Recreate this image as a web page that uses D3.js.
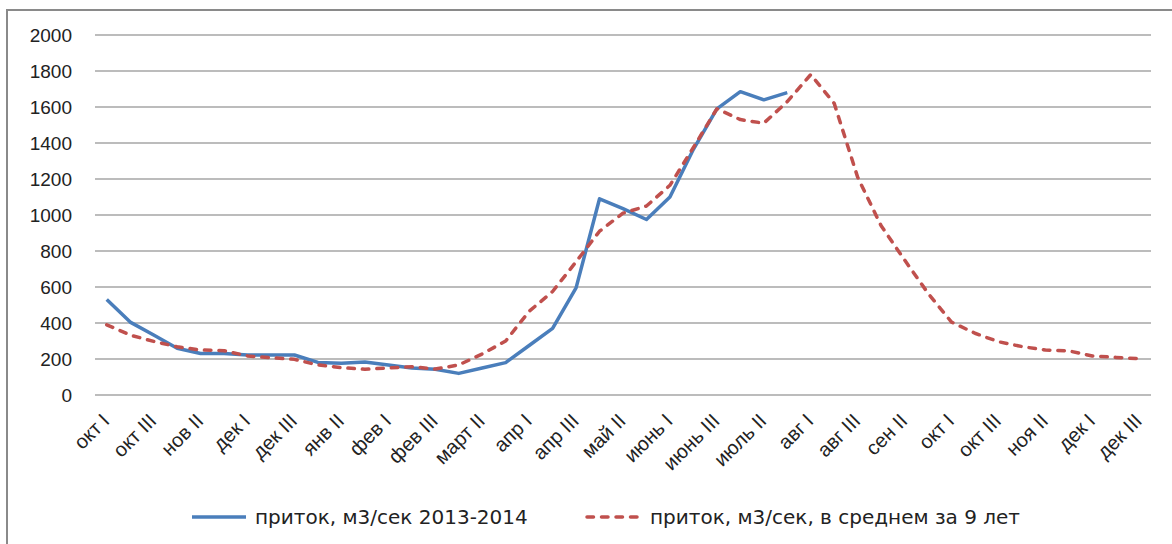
<!DOCTYPE html>
<html>
<head>
<meta charset="utf-8">
<script src="https://cdn.jsdelivr.net/npm/d3@7"></script>
<style>
  body { margin: 0; background: #fff; }
  svg { display: block; font-family: "DejaVu Sans", sans-serif; }
  .grid line { stroke: #a6a6a6; stroke-width: 1.3; }
  .axis text { fill: #222; }
</style>
</head>
<body>
<div class="chart-wrapper"></div>
<script>
// dekad labels: oct 2013 .. dec 2014
const months = ['окт', 'нов', 'дек', 'янв', 'фев', 'март', 'апр', 'май', 'июнь', 'июль', 'авг', 'сен', 'окт', 'ноя', 'дек']
const dekads = ['I', 'II', 'III']

const yTicks = [0, 200, 400, 600, 800, 1000, 1200, 1400, 1600, 1800, 2000]

// приток 2013-2014 (ends in early August)
const inflow2013 = [530, 405, 333, 260, 231, 230, 222, 222, 222, 181, 176, 183, 167, 150, 143,
  120, 150, 180, 275, 370, 595, 1090, 1035, 975, 1100, 1365, 1590, 1685, 1640, 1680]

// приток, средний за 9 лет
const inflowAvg = [390, 333, 298, 268, 250, 246, 217, 207, 198, 167, 152, 143, 150, 157, 144,
  167, 228, 300, 465, 575, 740, 910, 1010, 1050, 1165, 1375, 1590, 1530, 1510, 1630,
  1780, 1620, 1210, 940, 750, 565, 405, 343, 296, 269, 250, 245, 217, 209, 202]

const legendNames = ['приток, м3/сек 2013-2014', 'приток, м3/сек, в среднем за 9 лет']

const categories = []
months.forEach((m, mi) => dekads.forEach(d => categories.push(mi + '|' + m + ' ' + d)))

const width = 1172, height = 544
const margin = {top: 35, right: 21, bottom: 149, left: 95}

let svg = d3.select('.chart-wrapper')
  .append('svg')
  .attr('width', width)
  .attr('height', height)

// outer frame, runs off the right and bottom edge
svg.append('rect')
  .attr('x', 7).attr('y', 10)
  .attr('width', 1300).attr('height', 700)
  .attr('fill', 'none')
  .attr('stroke', '#8a8a8a')
  .attr('stroke-width', 2)

let x = d3.scaleBand().domain(categories).range([margin.left, width - margin.right])
let y = d3.scaleLinear().domain([0, 2000]).range([height - margin.bottom, margin.top])

let grid = svg.append('g').attr('class', 'grid')
grid.selectAll('line')
  .data(yTicks)
  .join('line')
  .attr('x1', margin.left).attr('x2', width - margin.right)
  .attr('y1', d => y(d)).attr('y2', d => y(d))

let yaxis = svg.append('g')
  .attr('class', 'y axis')
  .attr('transform', 'translate(' + margin.left + ',0)')
  .call(d3.axisLeft(y).tickValues(yTicks).tickFormat(d3.format('d')).tickSize(0).tickPadding(23))
yaxis.select('.domain').remove()
yaxis.selectAll('text').style('font-size', '19px')

let xaxis = svg.append('g')
  .attr('class', 'x axis')
  .attr('transform', 'translate(0,' + y(0) + ')')
  .call(d3.axisBottom(x)
    .tickValues(categories.filter((d, i) => i % 2 === 0))
    .tickFormat(d => d.split('|')[1])
    .tickSize(0))
xaxis.select('.domain').remove()
xaxis.selectAll('text')
  .style('font-size', '20px')
  .style('text-anchor', 'end')
  .attr('dy', null)
  .attr('y', 0)
  .attr('transform', 'translate(4,27) rotate(-45)')

const cx = (d, i) => x(categories[i]) + x.bandwidth() / 2

let line = d3.line()
  .x(cx)
  .y(d => y(d))

svg.append('path')
  .datum(inflowAvg)
  .attr('fill', 'none')
  .attr('stroke', '#c0504d')
  .attr('stroke-width', 3.5)
  .attr('stroke-dasharray', '6.5,8')
  .attr('stroke-linecap', 'round')
  .attr('stroke-linejoin', 'round')
  .attr('d', line)

svg.insert('path', 'path')
  .datum(inflow2013)
  .attr('fill', 'none')
  .attr('stroke', '#4a7ebb')
  .attr('stroke-width', 3.5)
  .attr('stroke-linejoin', 'round')
  .attr('d', line)

// legend
const legendY = 517
let lg = svg.append('g').attr('class', 'legend')
const legendX = [190, 585]
const styles = [
  {stroke: '#4a7ebb', dash: null, cap: 'butt'},
  {stroke: '#c0504d', dash: '6.5,8', cap: 'round'}
]
legendNames.forEach((name, i) => {
  lg.append('line')
    .attr('x1', legendX[i] + 2).attr('x2', legendX[i] + 56)
    .attr('y1', legendY).attr('y2', legendY)
    .attr('stroke', styles[i].stroke)
    .attr('stroke-width', 3.5)
    .attr('stroke-dasharray', styles[i].dash)
    .attr('stroke-linecap', styles[i].cap)
  lg.append('text')
    .attr('x', legendX[i] + 65)
    .attr('y', legendY)
    .attr('dy', '0.35em')
    .style('font-size', '20px')
    .attr('fill', '#222')
    .text(name)
})
</script>
</body>
</html>
